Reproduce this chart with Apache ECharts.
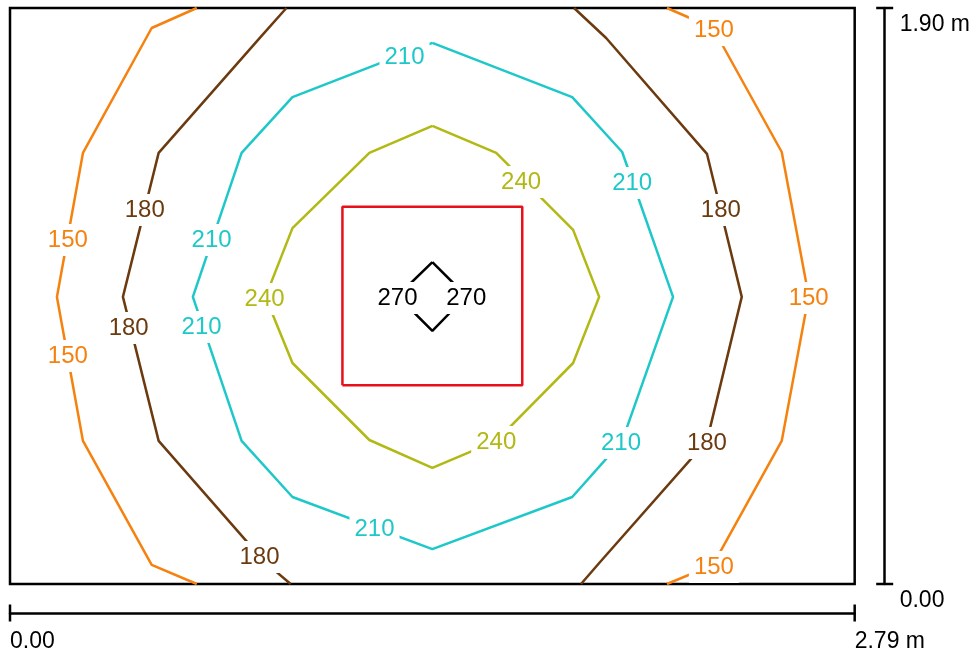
<!DOCTYPE html>
<html>
<head>
<meta charset="utf-8">
<script src="https://cdn.jsdelivr.net/npm/echarts@6/dist/echarts.min.js"></script>
<style>
html,body{margin:0;padding:0;background:#fff;}
#chart{width:973px;height:654px;}
</style>
</head>
<body>
<div id="chart"></div>
<script>
// Room extent (m) and scale-bar labels
const xRange = [0, 2.79];
const yRange = [0, 1.90];
const xTickLabels = ['0.00', '2.79 m'];
const yTickLabels = ['0.00', '1.90 m'];

// Isolines (x m, y m)
const iso150Left = [[0.617,1.900],[0.468,1.834],[0.241,1.422],[0.155,0.947],[0.241,0.472],[0.468,0.063],[0.617,0.000]];
const iso150Right = [[2.170,1.900],[2.322,1.834],[2.549,1.425],[2.638,0.950],[2.549,0.472],[2.322,0.063],[2.170,0.000]];
const iso180Left = [[0.913,1.900],[0.831,1.808],[0.491,1.422],[0.373,0.947],[0.491,0.472],[0.841,0.073],[0.927,0.000]];
const iso180Right = [[1.863,1.900],[1.969,1.801],[2.302,1.419],[2.417,0.947],[2.302,0.472],[1.952,0.076],[1.886,0.000]];
const iso210 = [[1.395,1.785],[1.857,1.606],[2.022,1.425],[2.190,0.947],[2.022,0.472],[1.857,0.287],[1.395,0.115],[0.933,0.287],[0.765,0.472],[0.604,0.947],[0.765,1.422],[0.933,1.606],[1.395,1.785]];
const iso240 = [[1.395,1.511],[1.606,1.422],[1.860,1.168],[1.946,0.947],[1.860,0.729],[1.606,0.472],[1.395,0.383],[1.187,0.475],[0.933,0.729],[0.844,0.947],[0.933,1.174],[1.187,1.422],[1.395,1.511]];
const iso270 = [[1.395,1.062],[1.507,0.950],[1.395,0.835],[1.280,0.950],[1.395,1.062]];
const redSquare = [[1.098,0.656],[1.692,0.656],[1.692,1.244],[1.098,1.244],[1.098,0.656]];

// Label positions
const labels150 = [[2.325,1.834],[0.191,1.141],[0.191,0.759],[2.638,0.950],[2.325,0.063]];
const labels180 = [[0.445,1.240],[0.392,0.851],[0.824,0.096],[2.348,1.240],[2.302,0.472]];
const labels210 = [[1.303,1.745],[2.055,1.329],[0.666,1.141],[0.633,0.854],[1.204,0.188],[2.018,0.472]];
const labels240 = [[1.688,1.333],[0.841,0.947],[1.606,0.475]];
const labels270 = [[1.280,0.950],[1.507,0.950]];

const C150 = '#f5820f', C180 = '#6b3a0f', C210 = '#1fc8c8', C240 = '#b2b814', C270 = '#000000';
const FONT = "'Liberation Sans', Arial, sans-serif";

function lineSeries(data, color, width) {
  return {
    type: 'line', data: data, symbol: 'none', silent: true, clip: false,
    lineStyle: { color: color, width: width || 2.5 }, animation: false
  };
}
function labelSeries(points, text, color) {
  return {
    type: 'scatter', silent: true, animation: false,
    symbol: 'circle', symbolSize: 1,
    itemStyle: { color: 'rgba(0,0,0,0)', opacity: 1 },
    data: points.map(p => [p[0], p[1]]),
    z: 5,
    label: {
      show: true, position: 'inside', formatter: () => text, offset: [0, 2],
      color: color, fontFamily: FONT, fontSize: 24, lineHeight: 26,
      backgroundColor: '#ffffff', padding: [3, 5]
    }
  };
}

const chart = echarts.init(document.getElementById('chart'), null, { renderer: 'canvas' });
chart.setOption({
  backgroundColor: '#ffffff',
  animation: false,
  grid: { left: 10, top: 8, width: 846, height: 576, show: true, borderColor: '#000', borderWidth: 2.5, backgroundColor: 'transparent' },
  xAxis: {
    type: 'value', min: xRange[0], max: xRange[1], interval: xRange[1],
    position: 'bottom', offset: 29,
    splitLine: { show: false }, axisTick: { show: false },
    axisLine: { show: true, onZero: false, lineStyle: { color: '#000', width: 2.5 }, symbol: ['rect', 'rect'], symbolSize: [17, 2.5] },
    axisLabel: {
      show: true, showMinLabel: true, showMaxLabel: true, align: 'left', margin: 17,
      color: '#000', fontFamily: FONT, fontSize: 23,
      formatter: (v, i) => xTickLabels[i]
    }
  },
  yAxis: {
    type: 'value', min: yRange[0], max: yRange[1], interval: yRange[1],
    position: 'right', offset: 30,
    splitLine: { show: false }, axisTick: { show: false },
    axisLine: { show: true, onZero: false, lineStyle: { color: '#000', width: 2.5 }, symbol: ['rect', 'rect'], symbolSize: [17, 2.5] },
    axisLabel: {
      show: true, showMinLabel: true, showMaxLabel: true, margin: 15,
      verticalAlign: 'top', padding: [5, 0, 0, 0],
      color: '#000', fontFamily: FONT, fontSize: 23,
      formatter: (v, i) => yTickLabels[i]
    }
  },
  series: [
    lineSeries(redSquare, '#e8101a', 2.5),
    lineSeries(iso150Left, C150), lineSeries(iso150Right, C150),
    lineSeries(iso180Left, C180), lineSeries(iso180Right, C180),
    lineSeries(iso210, C210), lineSeries(iso240, C240), lineSeries(iso270, C270),
    labelSeries(labels150, '150', C150),
    labelSeries(labels180, '180', C180),
    labelSeries(labels210, '210', C210),
    labelSeries(labels240, '240', C240),
    labelSeries(labels270, '270', C270)
  ]
});
</script>
</body>
</html>
